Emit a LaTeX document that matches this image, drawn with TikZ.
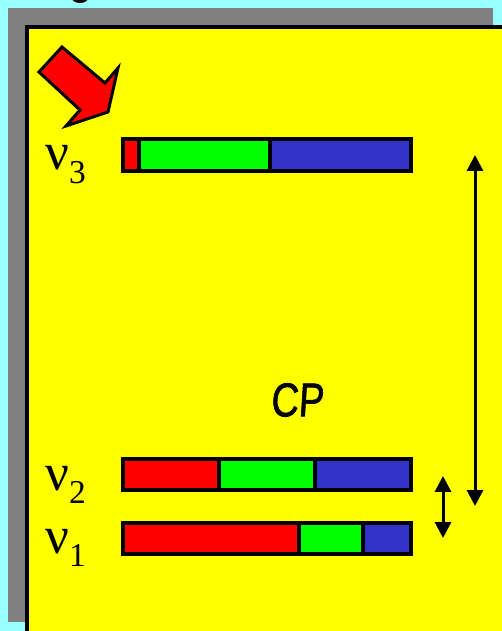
\documentclass[tikz,border=0pt]{standalone}
\usepackage{fontspec}
\setmainfont{Liberation Serif}
\newfontfamily\cpfont[FakeBold=1.5,FakeSlant=0.08]{Liberation Sans}
\usetikzlibrary{arrows.meta}
\definecolor{skycyan}{RGB}{153,255,255}
\definecolor{shadowgray}{RGB}{128,128,128}
\definecolor{boxyellow}{RGB}{255,255,0}
\definecolor{barred}{RGB}{255,0,0}
\definecolor{bargreen}{RGB}{0,255,0}
\definecolor{barblue}{RGB}{51,51,204}
\newcommand{\nulabel}[1]{{\fontsize{30}{30}\selectfont ν\raisebox{-0.25em}{\fontsize{19}{19}\selectfont #1}}}
\tikzset{
    barline/.style={line width=2.3pt},
    dblarrow/.style={line width=1.7pt, {Triangle[width=9pt,length=9pt]}-{Triangle[width=9pt,length=9pt]}}
}

\begin{document}
\begin{tikzpicture}[x=0.02cm,y=-0.02cm]
            \useasboundingbox (0,0) rectangle (502,631);
            \fill[skycyan] (0,0) rectangle (502,631);
            \begin{scope}
            \clip (0,0) rectangle (502,631);
            \fill (80,-2) ellipse (8 and 5);
            \fill[shadowgray] (8,8) rectangle (493,622);
            \draw[barline, fill=boxyellow] (27,27) rectangle (530,660);
            \end{scope}

            % pointer
            \draw[line width=1.7pt, fill=barred] (39,72) -- (62,47) -- (105,83) -- (118,68) -- (108,112) -- (66,126) -- (80,110) -- cycle;

            % nu_3
            \fill[barred] (123,139) rectangle (139,171);
            \fill[bargreen] (139,139) rectangle (270,171);
            \fill[barblue] (270,139) rectangle (411,171);
            \draw[barline] (123,139) rectangle (411,171);
            \draw[barline] (139,139) -- (139,171);
            \draw[barline] (270,139) -- (270,171);

            % nu_2
            \fill[barred] (123,459) rectangle (219,490);
            \fill[bargreen] (219,459) rectangle (315,490);
            \fill[barblue] (315,459) rectangle (411,490);
            \draw[barline] (123,459) rectangle (411,490);
            \draw[barline] (219,459) -- (219,490);
            \draw[barline] (315,459) -- (315,490);

            % nu_1
            \fill[barred] (123,523) rectangle (299,554);
            \fill[bargreen] (299,523) rectangle (363,554);
            \fill[barblue] (363,523) rectangle (411,554);
            \draw[barline] (123,523) rectangle (411,554);
            \draw[barline] (299,523) -- (299,554);
            \draw[barline] (363,523) -- (363,554);

            \node[anchor=base west, inner sep=0pt] (nu3) at (45,170) {\nulabel{3}};
            \node[anchor=base west, inner sep=0pt] (nu2) at (45,490) {\nulabel{2}};
            \node[anchor=base west, inner sep=0pt] (nu1) at (45,553) {\nulabel{1}};
            \node[inner sep=0pt, xscale=0.8] (cp) at (297,400) {\cpfont\fontsize{27}{27}\selectfont CP};

            \coordinate (longtop) at (475,155);
            \coordinate (longbot) at (475,506);
            \coordinate (shorttop) at (443,476);
            \coordinate (shortbot) at (443,538);
            \draw[dblarrow] (longtop) -- (longbot);
            \draw[dblarrow] (shorttop) -- (shortbot);
\end{tikzpicture}
\end{document}
